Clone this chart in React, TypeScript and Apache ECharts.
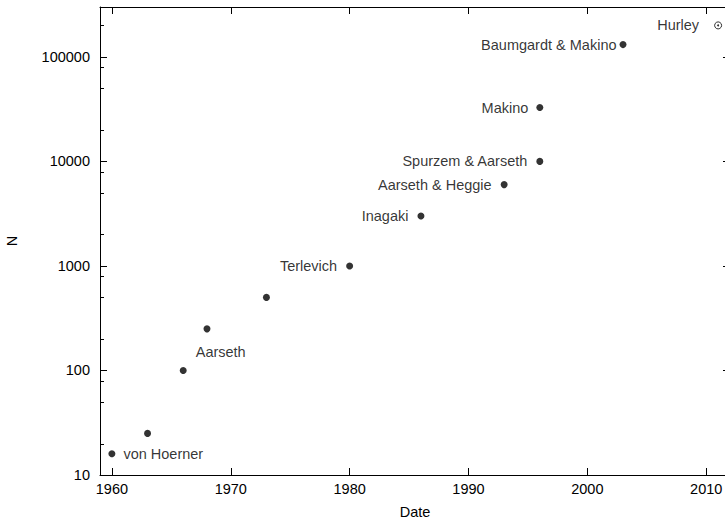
import React, { useEffect, useRef } from "react";
import * as echarts from "echarts";

// Direct N-body simulations: year of publication vs particle number
const years = [1960, 1963, 1966, 1968, 1973, 1980, 1986, 1993, 1996, 1996, 2003];
const particles = [16, 25, 100, 250, 500, 1000, 3000, 6000, 10000, 32768, 131072];
const authors = [
  "von Hoerner",
  "",
  "Aarseth",
  "",
  "",
  "Terlevich",
  "Inagaki",
  "Aarseth & Heggie",
  "Spurzem & Aarseth",
  "Makino",
  "Baumgardt & Makino",
];

// Open-symbol entry
const hurleyYear = [2011];
const hurleyN = [200000];
const hurleyAuthor = ["Hurley"];

// Axes
const xMin = 1959;
const xMax = 2012;
const yMin = 10;
const yMax = 300000;
const yearTicks = [1960, 1970, 1980, 1990, 2000, 2010];
const minorNTicks = [
  20, 50, 80, 200, 500, 800, 2000, 5000, 8000, 20000, 50000, 80000, 200000,
];

const FONT = "'Liberation Sans', Arial, Helvetica, sans-serif";
const INK = "#000";
const FONT_SIZE = 14.5;

// Where each annotation sits relative to its marker
const placement: Record<string, { position: string; distance: number; offset?: number[] }> = {
  "von Hoerner": { position: "right", distance: 8 },
  Aarseth: { position: "right", distance: 9, offset: [0, -18] },
  Terlevich: { position: "left", distance: 9 },
  Inagaki: { position: "left", distance: 9 },
  "Aarseth & Heggie": { position: "left", distance: 9 },
  "Spurzem & Aarseth": { position: "left", distance: 9 },
  Makino: { position: "left", distance: 8 },
  "Baumgardt & Makino": { position: "left", distance: 3 },
  Hurley: { position: "left", distance: 15 },
};

function pointData(xs: number[], ys: number[], names: string[]) {
  return xs.map((x, i) => {
    const name = names[i];
    const p = placement[name];
    return {
      value: [x, ys[i]],
      name,
      label: name
        ? {
            show: true,
            formatter: name,
            position: p.position,
            distance: p.distance,
            offset: p.offset || [0, 0],
          }
        : { show: false },
    };
  });
}

export default function App() {
  const ref = useRef<HTMLDivElement>(null);

  useEffect(() => {
    if (!ref.current) return;
    const chart = echarts.init(ref.current, null, { renderer: "svg" });

    const tickStyle = { color: INK, width: 1 };
    const labelText = { color: INK, fontSize: FONT_SIZE, fontFamily: FONT };

    chart.setOption({
      animation: false,
      backgroundColor: "#fff",
      textStyle: { fontFamily: FONT },
      grid: {
        left: 100,
        top: 7,
        right: -5,
        bottom: 43,
        containLabel: false,
        outerBoundsMode: "none",
      },
      xAxis: [
        {
          type: "value",
          min: xMin,
          max: xMax,
          position: "bottom",
          name: "Date",
          nameLocation: "middle",
          nameGap: 29,
          nameTextStyle: { ...labelText },
          axisLine: { show: true, lineStyle: { color: INK, width: 1 } },
          axisTick: { show: true, inside: true, length: 7, lineStyle: tickStyle, customValues: yearTicks },
          axisLabel: { show: true, margin: 6, ...labelText, customValues: yearTicks, formatter: (v: number) => String(v) },
          splitLine: { show: false },
        },
        {
          type: "value",
          min: xMin,
          max: xMax,
          position: "top",
          axisLine: { show: true, lineStyle: { color: INK, width: 1 } },
          axisTick: { show: true, inside: true, length: 7, lineStyle: tickStyle, customValues: yearTicks },
          axisLabel: { show: false, customValues: yearTicks },
          splitLine: { show: false },
        },
      ],
      yAxis: [
        {
          type: "log",
          logBase: 10,
          min: yMin,
          max: yMax,
          position: "left",
          name: "N",
          nameLocation: "middle",
          nameRotate: 90,
          nameGap: 81,
          nameTextStyle: { ...labelText },
          axisLine: { show: true, lineStyle: { color: INK, width: 1 } },
          axisTick: { show: true, inside: true, length: 7, lineStyle: tickStyle },
          axisLabel: {
            show: true,
            margin: 10,
            ...labelText,
            showMaxLabel: false,
            showMinLabel: true,
            formatter: (v: number) => String(Math.round(v)),
          },
          splitLine: { show: false },
        },
        {
          type: "log",
          logBase: 10,
          min: yMin,
          max: yMax,
          position: "right",
          axisLine: { show: true, lineStyle: { color: INK, width: 1 } },
          axisTick: { show: true, inside: true, length: 7, lineStyle: tickStyle },
          axisLabel: { show: false },
          splitLine: { show: false },
        },
      ],
      series: [
        {
          // short minor ticks on both vertical borders
          type: "custom",
          xAxisIndex: 0,
          yAxisIndex: 0,
          silent: true,
          clip: false,
          data: minorNTicks.map((v) => [xMin, v]),
          renderItem: (_params: any, api: any) => {
            const v = api.value(1);
            const l = api.coord([xMin, v]);
            const r = api.coord([xMax, v]);
            const y = Math.round(l[1]) + 0.5;
            return {
              type: "group",
              children: [
                { type: "line", shape: { x1: l[0], y1: y, x2: l[0] + 4, y2: y }, style: { stroke: INK, lineWidth: 1 } },
                { type: "line", shape: { x1: r[0] - 4, y1: y, x2: r[0], y2: y }, style: { stroke: INK, lineWidth: 1 } },
              ],
            };
          },
        },
        {
          type: "scatter",
          xAxisIndex: 0,
          yAxisIndex: 0,
          symbol: "circle",
          symbolSize: 7,
          itemStyle: { color: INK },
          label: { ...labelText },
          data: pointData(years, particles, authors),
        },
        {
          type: "scatter",
          xAxisIndex: 0,
          yAxisIndex: 0,
          symbol: "circle",
          symbolSize: 7,
          itemStyle: { color: "#fff", borderColor: INK, borderWidth: 1 },
          label: { ...labelText },
          data: pointData(hurleyYear, hurleyN, hurleyAuthor),
        },
        {
          type: "scatter",
          xAxisIndex: 0,
          yAxisIndex: 0,
          symbol: "circle",
          symbolSize: 2,
          itemStyle: { color: INK },
          silent: true,
          data: hurleyYear.map((x, i) => [x, hurleyN[i]]),
        },
      ],
    });

    return () => chart.dispose();
  }, []);

  return (
    <div
      ref={ref}
      style={{ position: "fixed", left: 0, top: 0, width: 725, height: 518, background: "#fff" }}
    />
  );
}
